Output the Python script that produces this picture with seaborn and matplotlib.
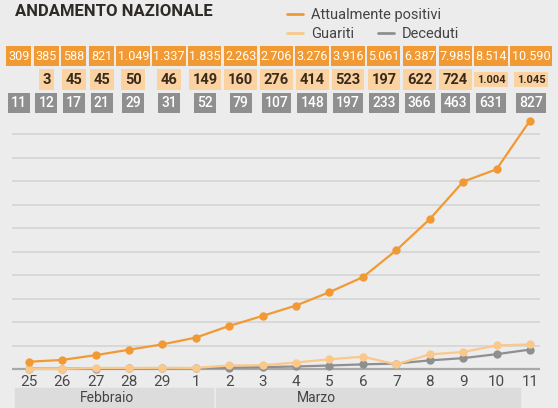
import pandas as pd
import matplotlib.pyplot as plt
import seaborn as sns
import numpy as np
from matplotlib.lines import Line2D

# dati: andamento nazionale (25 febbraio - 11 marzo)
giorni = ["25", "26", "27", "28", "29", "1", "2", "3", "4", "5", "6", "7", "8", "9", "10", "11"]
positivi = [309, 385, 588, 821, 1049, 1337, 1835, 2263, 2706, 3276, 3916, 5061, 6387, 7985, 8514, 10590]
guariti = [0, 3, 45, 45, 50, 46, 149, 160, 276, 414, 523, 197, 622, 724, 1004, 1045]
deceduti = [11, 12, 17, 21, 29, 31, 52, 79, 107, 148, 197, 233, 366, 463, 631, 827]
mesi = ["Febbraio", "Marzo"]

ORANGE = "#f19a34"
PEACH = "#f9c88a"
GREY = "#8f8f8f"
BG = "#ececec"

sns.set_style("white")
plt.rcParams["font.family"] = ["Roboto", "DejaVu Sans"]


def it(v):
    return f"{v:,}".replace(",", ".")


x = np.arange(len(giorni))
df = pd.DataFrame({
    "x": np.tile(x, 3),
    "valore": positivi + guariti + deceduti,
    "serie": ["Attualmente positivi"] * len(x) + ["Guariti"] * len(x) + ["Deceduti"] * len(x),
})
palette = {"Attualmente positivi": ORANGE, "Guariti": PEACH, "Deceduti": GREY}

fig = plt.figure(figsize=(5.58, 4.08), dpi=100, facecolor=BG)
ax = fig.add_axes([12 / 558, (408 - 372.5) / 408, 528 / 558, 254.5 / 408], facecolor=BG)

for y in range(1000, 10001, 1000):
    ax.axhline(y, color="#d5d5d5", lw=1.2, zorder=0)
ax.axhline(0, color="#a9a9a9", lw=1.6, zorder=1)

sns.lineplot(data=df, x="x", y="valore", hue="serie", palette=palette,
             hue_order=["Deceduti", "Guariti", "Attualmente positivi"],
             marker="o", markersize=6, markeredgewidth=0, linewidth=1.6,
             legend=False, ax=ax, zorder=3, clip_on=False)

ax.set_xlim(-0.5, 15.3)
ax.set_ylim(-150, 10700)
ax.set_xticks(x)
ax.set_xticklabels(giorni, fontsize=11, color="#4a4a4a")
ax.set_yticks([])
ax.tick_params(axis="x", length=0, pad=1.5)
ax.set_xlabel("")
ax.set_ylabel("")
sns.despine(ax=ax, left=True, bottom=True)

# fasce dei mesi
trans = ax.get_xaxis_transform()
h = 254.5
top, bot = -(388 - 372.5) / h, -(410 - 372.5) / h
fasce = [(-0.4, 5.5, 2.35), (5.6, 14.7, 8.6)]
for m, (s, e, tx) in zip(mesi, fasce):
    ax.add_patch(plt.Rectangle((s, bot), e - s, top - bot, transform=trans,
                               color="#dcdcdc", clip_on=False, zorder=0))
    ax.text(tx, -(398 - 372.5) / h, m, transform=trans, ha="center", va="center",
            fontsize=10, color="#444444")

# tabella dei valori in alto
larg = np.array([8.2 * sum(c.isdigit() for c in it(v)) + 3 for v in positivi])
centri = np.cumsum(larg) - larg / 2
tab = fig.add_axes([5 / 558, (408 - 115) / 408, larg.sum() / 558, 75 / 408])
tab.set_xlim(0, larg.sum())
tab.set_ylim(2.5, -0.68)
tab.axis("off")
for cx, w, p, g, d in zip(centri, larg, positivi, guariti, deceduti):
    tab.add_patch(plt.Rectangle((cx - w / 2 + 1, -0.41), w - 2.5, 0.82, color=ORANGE, lw=0))
    tab.text(cx, 0.02, it(p), ha="center", va="center", fontsize=9, color="white")
    if g > 0:
        fs = 8 if g >= 1000 else 10.5
        tab.text(cx, 1, it(g), ha="center", va="center", fontsize=fs, color="#3a2a1c",
                 fontweight="bold",
                 bbox=dict(boxstyle="square,pad=0.25", fc="#fbd3a2", ec="none"))
    tab.text(cx, 2, it(d), ha="center", va="center", fontsize=10, color="white",
             fontweight="medium",
             bbox=dict(boxstyle="square,pad=0.22", fc=GREY, ec="none"))

fig.text(15 / 558, 1 - 12 / 408, "ANDAMENTO NAZIONALE", fontsize=12, fontweight="bold",
         color="#2e2a26", va="center", ha="left")

h1 = [Line2D([], [], color=ORANGE, lw=2)]
h2 = [Line2D([], [], color=PEACH, lw=2), Line2D([], [], color=GREY, lw=2)]
leg1 = fig.legend(h1, ["Attualmente positivi"], loc="center left",
                  bbox_to_anchor=(280 / 558, 1 - 15 / 408), frameon=False,
                  fontsize=10.5, handlelength=1.1, handletextpad=0.55, borderpad=0)
leg2 = fig.legend(h2, ["Guariti", "Deceduti"], loc="center left", ncol=2,
                  bbox_to_anchor=(280 / 558, 1 - 34 / 408), frameon=False,
                  fontsize=10.5, handlelength=1.1, handletextpad=0.55, columnspacing=1.6,
                  borderpad=0)
for leg in (leg1, leg2):
    for t in leg.get_texts():
        t.set_color("#444444")

fig.savefig("out.png", dpi=100, facecolor=BG)
